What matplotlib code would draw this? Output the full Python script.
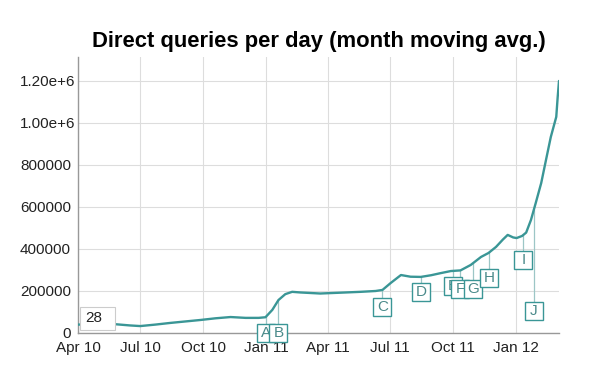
import matplotlib
matplotlib.use("Agg")
import matplotlib.pyplot as plt
import matplotlib.dates as mdates
import numpy as np
import pandas as pd
from matplotlib.transforms import Bbox, TransformedBbox, ScaledTranslation
from matplotlib.patches import Rectangle

plt.rcParams['font.family'] = ['Liberation Sans', 'DejaVu Sans']

# ---- data ----
dates = ["2010-04-01", "2010-05-03", "2010-05-25", "2010-06-16", "2010-07-01",
         "2010-07-23", "2010-08-14", "2010-09-05", "2010-09-27", "2010-10-19",
         "2010-11-10", "2010-12-02", "2010-12-21", "2010-12-31", "2011-01-10",
         "2011-01-19", "2011-01-29", "2011-02-08", "2011-02-20", "2011-03-21",
         "2011-04-20", "2011-05-19", "2011-06-10", "2011-06-20", "2011-07-02",
         "2011-07-17", "2011-07-31", "2011-08-15", "2011-08-30", "2011-09-13",
         "2011-09-28", "2011-10-12", "2011-10-27", "2011-11-11", "2011-11-22",
         "2011-12-03", "2011-12-13", "2011-12-20", "2011-12-28", "2012-01-02",
         "2012-01-10", "2012-01-16", "2012-01-23", "2012-01-30", "2012-02-07",
         "2012-02-14", "2012-02-21", "2012-02-29", "2012-03-02", "2012-03-04"]
values = [40000, 42000, 42000, 36000, 33000,
          40000, 48000, 55000, 62000, 70000,
          76000, 72000, 72000, 75000, 110000,
          157000, 185000, 196000, 193000, 188000,
          192000, 196000, 200000, 205000, 238000,
          276000, 268000, 267000, 275000, 285000,
          295000, 298000, 324000, 362000, 381000,
          410000, 445000, 467000, 455000, 452000,
          462000, 478000, 538000, 619000, 714000,
          824000, 933000, 1029000, 1120000, 1200000]

ann_letters = ["A", "B", "C", "D", "E", "F", "G", "H", "I", "J"]
ann_dates = ["2011-01-01", "2011-01-19", "2011-06-20", "2011-08-15", "2011-10-01",
             "2011-10-12", "2011-10-30", "2011-11-23", "2012-01-12", "2012-01-27"]
ann_values = [0, 0, 124000, 195000, 224000, 210000, 210000, 262000, 348000, 105000]

yticks = [0, 200000, 400000, 600000, 800000, 1000000, 1200000]
ytick_labels = ["0", "200000", "400000", "600000", "800000", "1.00e+6", "1.20e+6"]
xtick_dates = ["2010-04-01", "2010-07-01", "2010-10-01", "2011-01-01", "2011-04-01",
               "2011-07-01", "2011-10-01", "2012-01-01"]
xtick_labels = ["Apr 10", "Jul 10", "Oct 10", "Jan 11", "Apr 11", "Jul 11", "Oct 11", "Jan 12"]

title = "Direct queries per day (month moving avg.)"
badge_text = "28"

# ---- figure ----
W, H = 595, 375
fig = plt.figure(figsize=(W / 100, H / 100), dpi=100)
ax = fig.add_axes([78 / W, 1 - 333 / H, (559 - 78) / W, (333 - 57) / H])

x = pd.to_datetime(dates)
teal = "#3a9696"
ax.plot(x, values, color=teal, lw=1.7, zorder=3, solid_capstyle='round',
        solid_joinstyle='round')

ax.set_xlim(pd.Timestamp("2010-04-01"), pd.Timestamp("2012-03-04"))
ax.set_ylim(0, 1314000)

ax.set_yticks(yticks)
ax.set_yticklabels(ytick_labels)
ax.set_xticks(pd.to_datetime(xtick_dates))
ax.set_xticklabels(xtick_labels)
ax.tick_params(length=0, labelsize=11, colors="#222222")
ax.tick_params(axis='y', pad=5)
ax.tick_params(axis='x', pad=6)
ax.grid(True, color="#dddddd", lw=0.8, zorder=0)
for s in ["top", "right"]:
    ax.spines[s].set_visible(False)
for s in ["left", "bottom"]:
    ax.spines[s].set_color("#999999")
    ax.spines[s].set_linewidth(1.0)

fig.canvas.draw()
clip = TransformedBbox(Bbox([[0, 0], [75.5 / W, 1]]), fig.transFigure)
for lbl in ax.get_yticklabels():
    if "e+" in lbl.get_text():
        lbl.set_transform(lbl.get_transform() + ScaledTranslation(4 / 100, 0, fig.dpi_scale_trans))
    lbl.set_clip_box(clip)
    lbl.set_clip_on(True)

# annotations: fixed-size square boxes (about 18 px), each drawn above the previous
xd = mdates.date2num(x)
ad = pd.to_datetime(ann_dates)
box_in = 0.18
for i, (letter, d, v) in enumerate(zip(ann_letters, ad, ann_values)):
    dn = mdates.date2num(d)
    curve_v = np.interp(dn, xd, values)
    ax.plot([d, d], [v, curve_v], color="#9cc6c6", lw=0.9, zorder=2)
    z = 5 + 2 * i
    tr = fig.dpi_scale_trans + ScaledTranslation(dn, v, ax.transData)
    ax.add_patch(Rectangle((-box_in / 2, -box_in / 2), box_in, box_in, transform=tr,
                           fc="white", ec=teal, lw=1.0, zorder=z, clip_on=False))
    ax.text(dn, v, letter, ha="center", va="center", fontsize=11, color="#4a8a8a",
            zorder=z + 1, clip_on=False)

# "28" badge
ax.add_patch(Rectangle((0.004, 0.011), 0.073, 0.083, transform=ax.transAxes,
                       fc="white", ec="#cccccc", lw=0.8, zorder=30, clip_on=False))
ax.text(0.0146, 0.054, badge_text, transform=ax.transAxes, fontsize=11, color="#222222",
        ha="left", va="center", zorder=31)

fig.text(319 / W, 1 - 42 / H, title, ha="center", va="center", fontsize=15.8,
         fontweight="bold", color="#000000")

fig.savefig("out.png", dpi=100)
